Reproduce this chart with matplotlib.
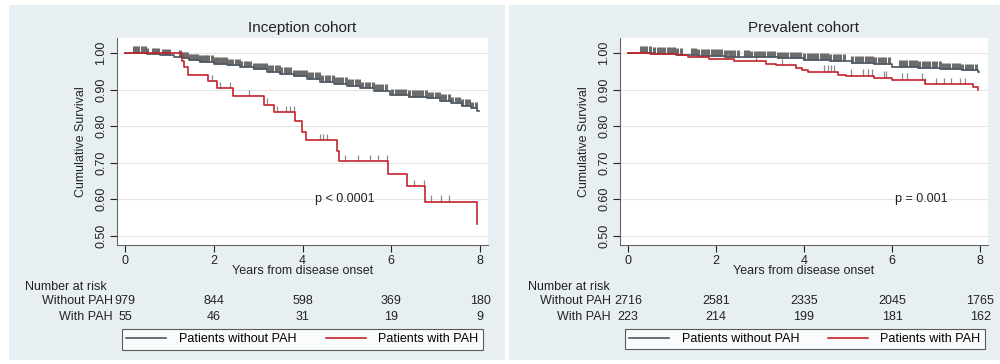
import matplotlib
matplotlib.use("Agg")
import matplotlib.pyplot as plt
import matplotlib.transforms as mtransforms
from matplotlib.patches import Rectangle
from matplotlib.lines import Line2D
import numpy as np

plt.rcParams['font.family'] = ['Liberation Sans', 'DejaVu Sans']

## Inception cohort - KM step curves (time in years, survival)
inc_without_t = [0, 0.5, 0.8, 1.1, 1.3, 1.45, 1.7, 2.0, 2.3, 2.6, 2.9, 3.2, 3.5, 3.8, 4.1, 4.4,
                 4.7, 5.0, 5.3, 5.6, 5.97, 6.4, 6.8, 7.1, 7.35, 7.6, 7.8, 7.93, 7.98]
inc_without_s = [1.0, 0.997, 0.994, 0.99, 0.986, 0.98, 0.976, 0.971, 0.966, 0.961, 0.955, 0.949,
                 0.943, 0.936, 0.929, 0.922, 0.916, 0.91, 0.904, 0.897, 0.884, 0.881, 0.876,
                 0.869, 0.862, 0.856, 0.849, 0.842, 0.842]
inc_with_t = [0, 1.28, 1.33, 1.41, 1.86, 2.08, 2.44, 3.14, 3.36, 3.83, 3.98, 4.08, 4.77, 4.82,
              5.92, 6.36, 6.75, 7.93, 7.93]
inc_with_s = [1.0, 0.979, 0.961, 0.941, 0.923, 0.903, 0.882, 0.859, 0.838, 0.813, 0.785, 0.761,
              0.732, 0.704, 0.670, 0.636, 0.593, 0.533, 0.533]
inc_without_cens = [0.2, 0.25, 0.3, 0.38, 0.45, 0.5, 0.62, 0.68, 0.74, 0.85, 0.92, 1.0, 1.25, 1.3,
                    1.35, 1.4, 1.47, 1.52, 1.58, 1.63, 1.7, 1.75, 1.82, 1.88, 1.95, 2.02, 2.08,
                    2.15, 2.2, 2.28, 2.35, 2.42, 2.5, 2.56, 2.62, 2.7, 2.76, 2.82, 2.9, 2.97, 3.05,
                    3.12, 3.18, 3.25, 3.32, 3.4, 3.46, 3.52, 3.6, 3.66, 3.72, 3.8, 3.88, 3.95,
                    4.02, 4.08, 4.15, 4.22, 4.3, 4.38, 4.45, 4.52, 4.6, 4.68, 4.75, 4.82, 4.9,
                    4.98, 5.05, 5.12, 5.2, 5.28, 5.35, 5.42, 5.5, 5.58, 5.65, 5.72, 5.8, 5.88,
                    6.02, 6.1, 6.18, 6.25, 6.32, 6.4, 6.48, 6.55, 6.62, 6.7, 6.78, 6.85, 6.92,
                    7.0, 7.08, 7.15, 7.22, 7.3, 7.38, 7.45, 7.52, 7.6, 7.68, 7.75, 7.82, 7.9]
inc_with_cens = [1.95, 2.14, 2.36, 2.79, 3.2, 3.42, 3.63, 3.72, 3.81, 4.4, 4.47, 4.55, 4.96, 5.26,
                 5.53, 5.71, 5.9, 6.52, 6.74, 6.89, 7.11, 7.29]

## Prevalent cohort
prev_without_t = [0, 0.6, 1.1, 1.6, 2.2, 2.8, 3.4, 4.0, 4.6, 5.1, 5.6, 6.0, 6.6, 7.1, 7.6, 7.95, 7.98]
prev_without_s = [1.0, 0.998, 0.995, 0.993, 0.99, 0.988, 0.985, 0.982, 0.978, 0.974, 0.97, 0.962,
                  0.959, 0.956, 0.953, 0.949, 0.949]
prev_with_t = [0, 0.5, 1.13, 1.36, 1.85, 2.42, 3.14, 3.36, 3.82, 3.95, 4.08, 4.78, 4.95, 5.6, 6.0,
               6.75, 7.85, 7.95, 7.95]
prev_with_s = [1.0, 0.998, 0.994, 0.989, 0.983, 0.977, 0.971, 0.966, 0.959, 0.954, 0.948, 0.941,
               0.937, 0.932, 0.926, 0.914, 0.908, 0.90, 0.90]
prev_without_cens = [0.3, 0.35, 0.42, 0.5, 0.6, 0.68, 0.75, 0.82, 0.9, 0.98, 1.05, 1.12, 1.2, 1.45,
                     1.52, 1.6, 1.68, 1.75, 1.82, 1.9, 1.98, 2.05, 2.12, 2.2, 2.28, 2.35, 2.42,
                     2.5, 2.65, 2.72, 2.8, 2.88, 2.95, 3.02, 3.1, 3.18, 3.25, 3.32, 3.4, 3.48,
                     3.55, 3.62, 3.7, 3.78, 3.85, 3.92, 4.0, 4.08, 4.15, 4.22, 4.3, 4.38, 4.45,
                     4.52, 4.6, 4.68, 4.75, 4.82, 4.9, 5.1, 5.18, 5.25, 5.32, 5.4, 5.48, 5.55,
                     5.62, 5.7, 5.78, 5.85, 5.92, 6.18, 6.25, 6.32, 6.4, 6.48, 6.55, 6.62, 6.7,
                     6.78, 6.85, 6.92, 7.0, 7.08, 7.15, 7.22, 7.3, 7.38, 7.45, 7.52, 7.6, 7.68,
                     7.75, 7.82, 7.9]
prev_with_cens = [2.27, 2.9, 3.5, 4.46, 4.54, 4.61, 4.69, 5.07, 5.33, 5.45, 5.55, 5.82, 5.87, 6.23,
                  6.34, 6.68, 6.75, 6.99, 7.17, 7.35, 7.55, 7.66]

## number at risk
risk_times = [0, 2, 4, 6, 8]
inc_risk_without = [979, 844, 598, 369, 180]
inc_risk_with = [55, 46, 31, 19, 9]
prev_risk_without = [2716, 2581, 2335, 2045, 1765]
prev_risk_with = [223, 214, 199, 181, 162]

titles = ["Inception cohort", "Prevalent cohort"]
pvals = ["p < 0.0001", "p = 0.001"]

GRAY = '#4c5661'
RED = '#c4232b'
BG = '#e8eff2'
W, H = 1000, 364

fig = plt.figure(figsize=(10, 3.64), dpi=100)
fig.patch.set_facecolor('white')
# panel backgrounds
for x0, x1 in [(9, 505), (509, 1000)]:
    fig.patches.append(Rectangle((x0 / W, 4 / H), (x1 - x0) / W, 1 - 9 / H,
                                 transform=fig.transFigure, facecolor=BG, edgecolor='none', zorder=-5))


def step_value(times, surv, c):
    i = np.searchsorted(times, c, side='right') - 1
    return np.array(surv)[i]


def draw_panel(ax, title, wt, ws, wc, pt, ps, pc, ptext, pxy, r_without, r_with, leg_box, lab_off):
    ax.set_facecolor('white')
    for y in [0.5, 0.6, 0.7, 0.8, 0.9, 1.0]:
        ax.axhline(y, color='#e6e6e6', lw=0.8, zorder=1)
    ax.step(wt, ws, where='post', color=GRAY, lw=1.2, zorder=3)
    ax.step(pt, ps, where='post', color=RED, lw=1.2, zorder=4)
    # censor marks
    wc = np.array(wc)
    yw = step_value(wt, ws, wc)
    ax.vlines(wc, yw, yw + 0.018, color='#6c6c6c', lw=2.2, zorder=2)
    pc = np.array(pc)
    yp = step_value(pt, ps, pc)
    ax.vlines(pc, yp, yp + 0.018, color='#8a8a8a', lw=0.9, zorder=2)

    ax.set_xlim(-0.18, 8.18)
    ax.set_ylim(0.475, 1.041)
    ax.set_xticks(risk_times)
    ax.set_yticks([0.5, 0.6, 0.7, 0.8, 0.9, 1.0])
    ax.set_yticklabels(["0.50", "0.60", "0.70", "0.80", "0.90", "1.00"], rotation=90, va='center')
    ax.tick_params(labelsize=9, colors='#222222', length=5, width=0.8, pad=2)
    ax.tick_params(axis='x', pad=2)
    for s in ['top', 'right']:
        ax.spines[s].set_visible(False)
    for s in ['left', 'bottom']:
        ax.spines[s].set_color('#666666')
        ax.spines[s].set_linewidth(0.8)
    ax.set_title(title, fontsize=11, color='#222222', pad=4)
    ax.set_ylabel("Cumulative Survival", fontsize=9, color='#222222', labelpad=6)
    ax.text(pxy[0], pxy[1], ptext, fontsize=9, color='#222222', va='center')

    trans = mtransforms.blended_transform_factory(ax.transData, fig.transFigure)
    ax.text(4, 1 - 271 / H, "Years from disease onset", transform=trans, fontsize=9,
            ha='center', va='center', color='#222222')
    x_left = ax.get_position().x0
    fig.text(x_left - 10 / W, 1 - 287 / H, "Number at risk", fontsize=9, ha='right', va='center',
             color='#222222')
    fig.text(x_left - lab_off / W, 1 - 301.5 / H, "Without PAH", fontsize=9, ha='right', va='center',
             color='#222222')
    fig.text(x_left - lab_off / W, 1 - 316.5 / H, "With PAH", fontsize=9, ha='right', va='center',
             color='#222222')
    for t, a, b in zip(risk_times, r_without, r_with):
        ax.text(t, 1 - 301.5 / H, str(a), transform=trans, fontsize=9, ha='center', va='center',
                color='#222222', clip_on=False)
        ax.text(t, 1 - 316.5 / H, str(b), transform=trans, fontsize=9, ha='center', va='center',
                color='#222222', clip_on=False)

    handles = [Line2D([], [], color=GRAY, lw=1.2), Line2D([], [], color=RED, lw=1.2)]
    leg = fig.legend(handles, ["Patients without PAH", "Patients with PAH"], ncol=2,
                     bbox_to_anchor=leg_box, bbox_transform=fig.transFigure, loc='center',
                     mode='expand', fontsize=9, frameon=True, fancybox=False,
                     handlelength=3.2, handletextpad=1.0, borderpad=0.35, borderaxespad=0)
    leg.get_frame().set_edgecolor('#333333')
    leg.get_frame().set_linewidth(0.8)
    leg.get_frame().set_facecolor('white')


ax1 = fig.add_axes([117 / W, 1 - 245 / H, 371 / W, 207 / H])
ax2 = fig.add_axes([620 / W, 1 - 245 / H, 368 / W, 207 / H])

draw_panel(ax1, titles[0], inc_without_t, inc_without_s, inc_without_cens,
           inc_with_t, inc_with_s, inc_with_cens, pvals[0], (4.28, 0.60),
           inc_risk_without, inc_risk_with,
           (122 / W, 1 - 352 / H, 361 / W, 25 / H), 4)
draw_panel(ax2, titles[1], prev_without_t, prev_without_s, prev_without_cens,
           prev_with_t, prev_with_s, prev_with_cens, pvals[1], (6.07, 0.60),
           prev_risk_without, prev_risk_with,
           (625 / W, 1 - 351 / H, 360 / W, 24 / H), 9)

plt.savefig("out.png", dpi=100, facecolor='white')
